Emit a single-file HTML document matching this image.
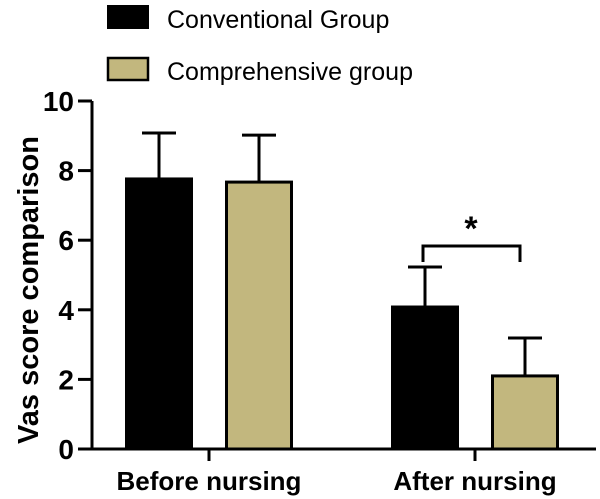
<!DOCTYPE html>
<html><head><meta charset="utf-8"><style>
html,body{margin:0;padding:0;background:#fff;width:600px;height:499px;overflow:hidden}
svg{font-family:"Liberation Sans",Arial,sans-serif}
</style></head><body>
<svg id="chart" width="600" height="499">
<g>
<rect x="108" y="6" width="40" height="22" fill="#000" stroke="#000" stroke-width="2"/>
<text x="167" y="28" font-size="25">Conventional Group</text>
<rect x="108" y="58" width="40" height="22" fill="#c2b77e" stroke="#000" stroke-width="2.5"/>
<text x="167" y="80" font-size="25">Comprehensive group</text>
</g>
<text transform="translate(38,290) rotate(-90)" text-anchor="middle" font-size="29" font-weight="bold">Vas score comparison</text>
</svg>
<script>
const categories=["Before nursing","After nursing"];
const conventional=[7.76,4.08];
const conventionalErr=[1.32,1.15];
const comprehensive=[7.67,2.1];
const comprehensiveErr=[1.35,1.09];
const yTicks=[0,2,4,6,8,10];
const svg=document.getElementById('chart');
const NS="http://www.w3.org/2000/svg";
const y0=449,y10=101;
const yS=v=>y0-(y0-y10)*v/10;
const catX=[209,475];
function mk(t,a){const e=document.createElementNS(NS,t);for(const k in a)e.setAttribute(k,a[k]);svg.appendChild(e);return e;}
let ax=mk('line',{x1:92,y1:y10,x2:92,y2:y0+1.5,stroke:'#000','stroke-width':3});


let xa=mk('line',{x1:90.5,y1:y0,x2:596,y2:y0,stroke:'#000','stroke-width':3});


yTicks.forEach(t=>{
 const l=mk('line',{x1:78,y1:yS(t),x2:92,y2:yS(t),stroke:'#000','stroke-width':3});
 
 
 const tx=mk('text',{x:74,y:yS(t)+10,'text-anchor':'end','font-size':28,'font-weight':'bold'});
 tx.textContent=t;
 
 
});
categories.forEach((c,i)=>{
 const l=mk('line',{x1:catX[i],y1:y0,x2:catX[i],y2:y0+12,stroke:'#000','stroke-width':3});
 
 
 const tx=mk('text',{x:catX[i],y:490,'text-anchor':'middle','font-size':26,'font-weight':'bold'});
 tx.textContent=c;
 
 
});
const bw=65;
function bar(cx,v,e,fill,name){
 const top=yS(v),et=yS(v+e);
 const el=mk('line',{x1:cx,y1:top,x2:cx,y2:et,stroke:'#000','stroke-width':3});
 
 
 const cap=mk('line',{x1:cx-17,y1:et,x2:cx+17,y2:et,stroke:'#000','stroke-width':3});
 
 
 const r=mk('rect',{x:cx-bw/2,y:top,width:bw,height:y0-top,fill:fill,stroke:'#000','stroke-width':3});
 
 
}
categories.forEach((c,i)=>{
 bar(catX[i]-50,conventional[i],conventionalErr[i],'#000','bar-conventional-'+i);
 bar(catX[i]+50,comprehensive[i],comprehensiveErr[i],'#c2b77e','bar-comprehensive-'+i);
});
const br=mk('polyline',{points:'423,262 423,246 520,246 520,262',fill:'none',stroke:'#000','stroke-width':3});


const st=mk('text',{x:471,y:240,'text-anchor':'middle','font-size':34,'font-weight':'bold'});
st.textContent='*';


</script>
</body></html>
